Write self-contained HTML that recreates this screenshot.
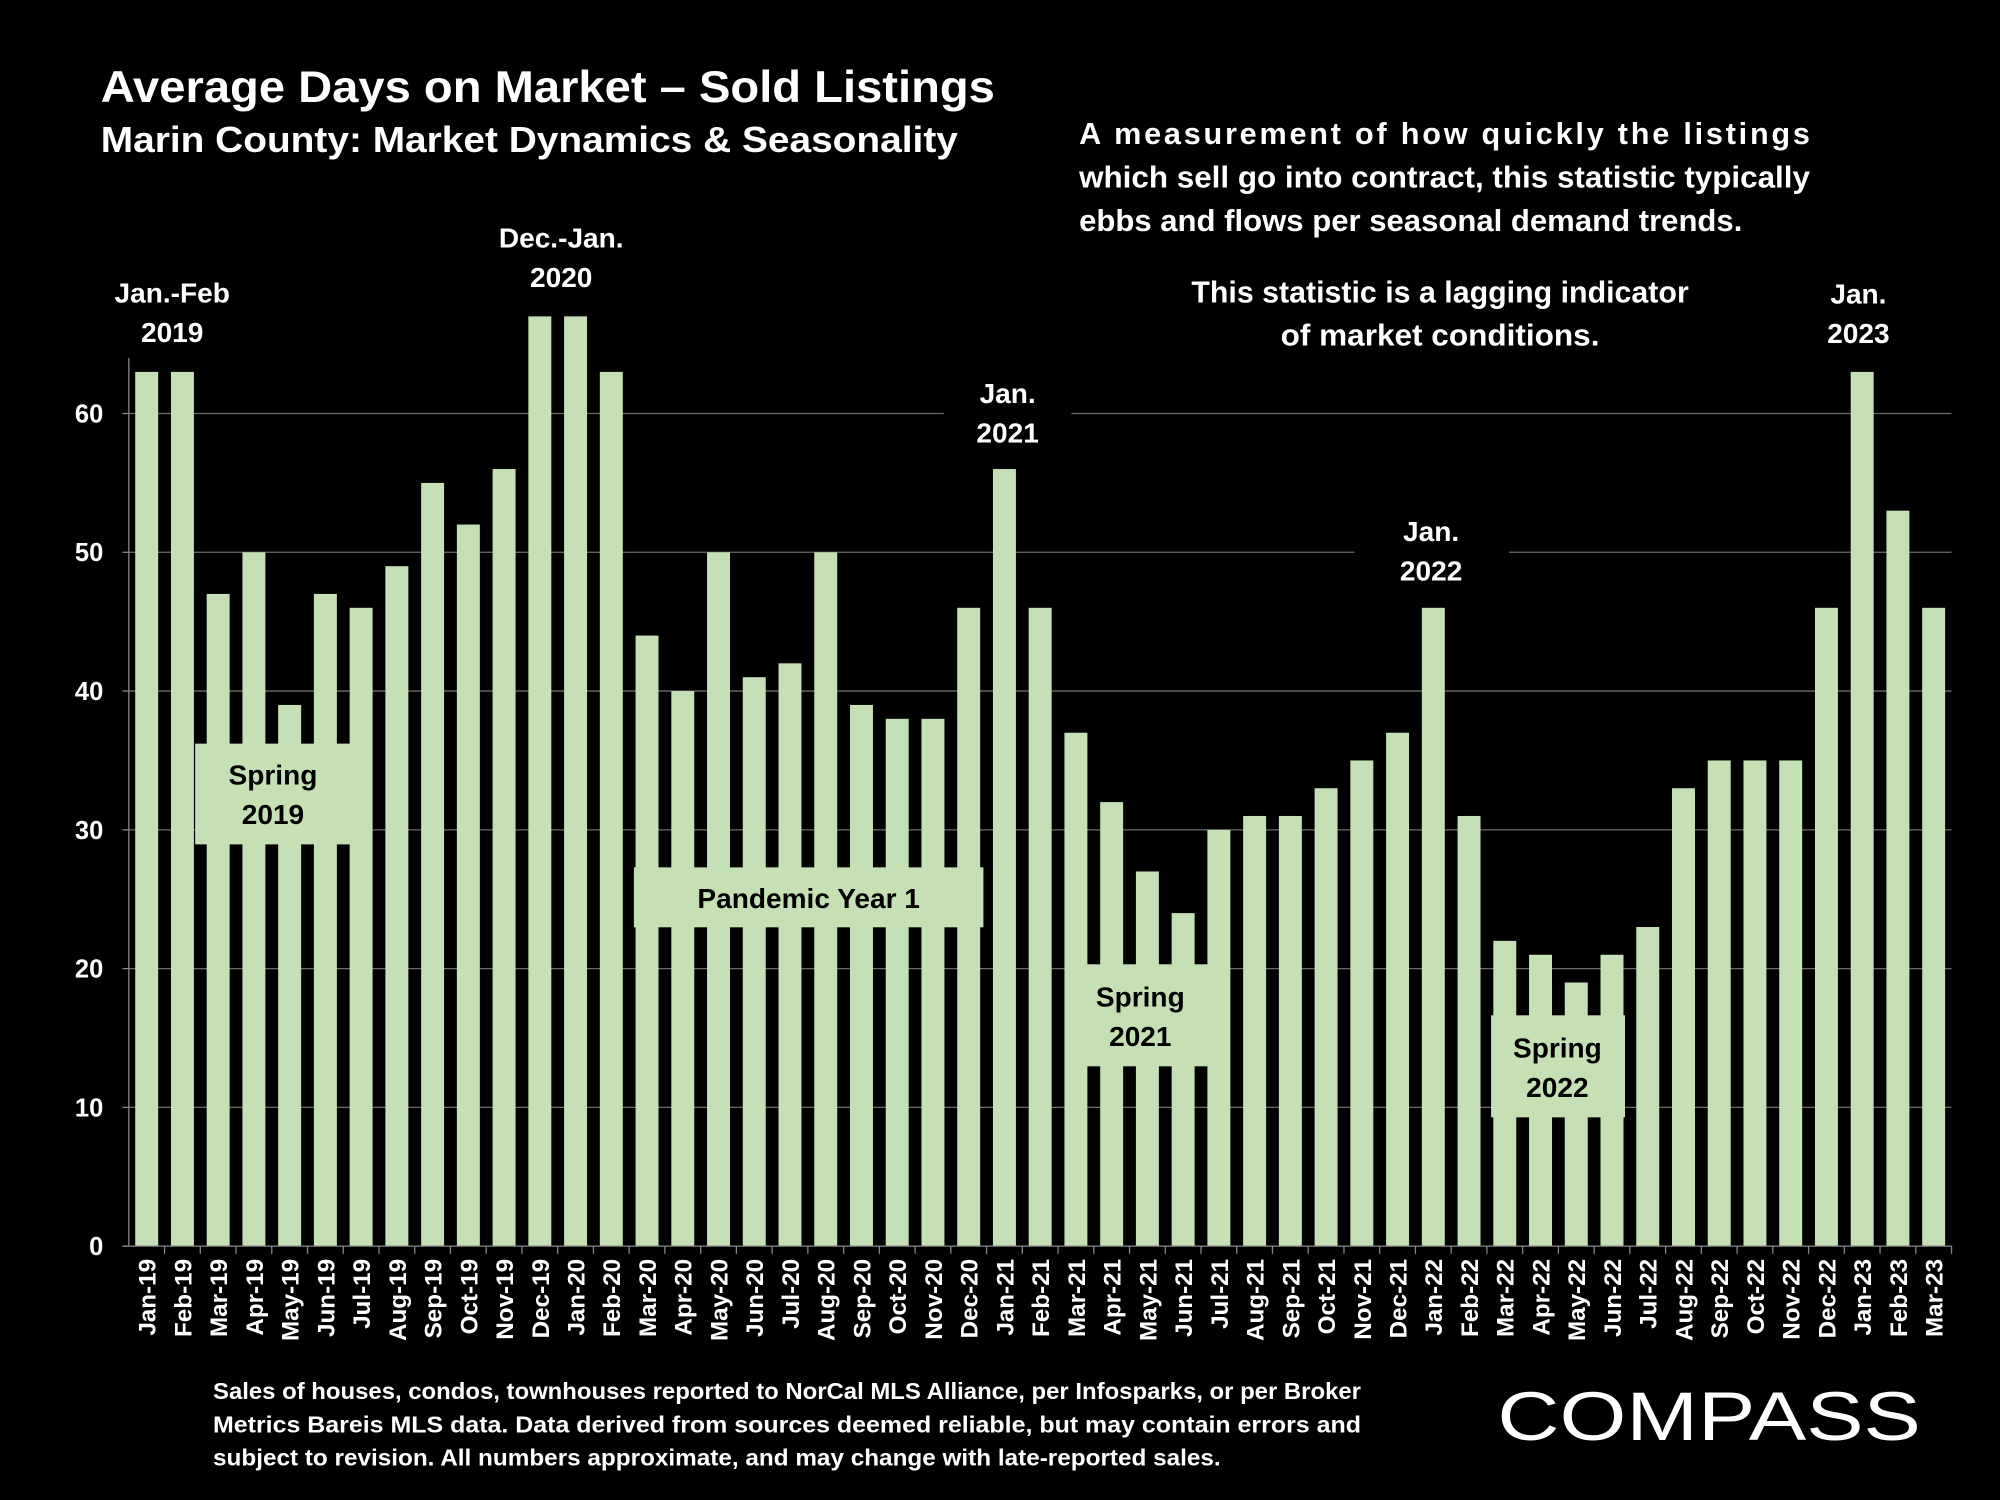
<!DOCTYPE html>
<html><head><meta charset="utf-8"><style>
html,body{margin:0;padding:0;background:#000;}
svg{display:block;font-family:"Liberation Sans",sans-serif;font-weight:bold;}
</style></head><body>
<svg id="chart" width="2000" height="1500" viewBox="0 0 1568 1176" preserveAspectRatio="none" xmlns="http://www.w3.org/2000/svg">
<rect width="1568" height="1176" fill="#000"/>
<text x="79" y="80" font-size="35" fill="#fff" textLength="701" lengthAdjust="spacingAndGlyphs">Average Days on Market – Sold Listings</text>
<text x="79" y="119" font-size="28" fill="#fff" textLength="672" lengthAdjust="spacingAndGlyphs">Marin County: Market Dynamics &amp; Seasonality</text>
<g fill="#fff" font-size="24">
<text x="846" y="113" textLength="573" lengthAdjust="spacing">A measurement of how quickly the listings</text>
<text x="846" y="147" textLength="573" lengthAdjust="spacingAndGlyphs">which sell go into contract, this statistic typically</text>
<text x="846" y="181" textLength="520" lengthAdjust="spacingAndGlyphs">ebbs and flows per seasonal demand trends.</text>
<text x="1129" y="237" text-anchor="middle" textLength="390" lengthAdjust="spacingAndGlyphs">This statistic is a lagging indicator</text>
<text x="1129" y="271" text-anchor="middle" textLength="250" lengthAdjust="spacingAndGlyphs">of market conditions.</text>
</g>
<g id="grid"></g>
<g id="bars"></g>
<g id="axes"></g>
<g id="annots"></g>
<g fill="#fff" font-size="18">
<text x="167" y="1097" textLength="900" lengthAdjust="spacingAndGlyphs">Sales of houses, condos, townhouses reported to NorCal MLS Alliance, per Infosparks, or per Broker</text>
<text x="167" y="1123" textLength="900" lengthAdjust="spacingAndGlyphs">Metrics Bareis MLS data. Data derived from sources deemed reliable, but may contain errors and</text>
<text x="167" y="1149" textLength="790" lengthAdjust="spacingAndGlyphs">subject to revision. All numbers approximate, and may change with late-reported sales.</text>
</g>
<text x="1174" y="1129" font-size="54" font-weight="normal" fill="#fff" textLength="332" lengthAdjust="spacingAndGlyphs">COMPASS</text>
<script>
const categories=["Jan-19","Feb-19","Mar-19","Apr-19","May-19","Jun-19","Jul-19","Aug-19","Sep-19","Oct-19","Nov-19","Dec-19","Jan-20","Feb-20","Mar-20","Apr-20","May-20","Jun-20","Jul-20","Aug-20","Sep-20","Oct-20","Nov-20","Dec-20","Jan-21","Feb-21","Mar-21","Apr-21","May-21","Jun-21","Jul-21","Aug-21","Sep-21","Oct-21","Nov-21","Dec-21","Jan-22","Feb-22","Mar-22","Apr-22","May-22","Jun-22","Jul-22","Aug-22","Sep-22","Oct-22","Nov-22","Dec-22","Jan-23","Feb-23","Mar-23"];
const values=[63,63,47,50,39,47,46,49,55,52,56,67,67,63,44,40,50,41,42,50,39,38,38,46,56,46,37,32,27,24,30,31,31,33,35,37,46,31,22,21,19,21,23,33,35,35,35,46,63,53,46];
const yTicks=[0,10,20,30,40,50,60];
const NS="http://www.w3.org/2000/svg";
const left=101,right=1530,y0=977,yPer=10.88;
const step=(right-left)/categories.length,bw=18;
const xc=i=>left+step*(i+0.5);
const ys=v=>y0-v*yPer;
function mk(t,a,p){const e=document.createElementNS(NS,t);for(const k in a)e.setAttribute(k,a[k]);p.appendChild(e);return e;}
const grid=document.getElementById('grid'),bars=document.getElementById('bars'),axes=document.getElementById('axes');
yTicks.forEach(v=>{
  if(v>0){const l=mk('line',{x1:left,x2:right,y1:ys(v),y2:ys(v),stroke:'#6b6b6b','stroke-width':1},grid);
  
  }
  const t=mk('text',{x:left-20,y:ys(v)+7,'text-anchor':'end','font-size':20,fill:'#fff'},axes);t.textContent=v;
  
  
  mk('line',{x1:left-5,x2:left,y1:ys(v),y2:ys(v),stroke:'#888'},axes);
});
mk('line',{x1:left,x2:left,y1:ys(64),y2:y0,stroke:'#888'},axes);
mk('line',{x1:left-5,x2:right,y1:y0,y2:y0,stroke:'#888'},axes);
values.forEach((v,i)=>{
  const r=mk('rect',{x:xc(i)-bw/2,y:ys(v),width:bw,height:v*yPer,fill:'#c5e0b4'},bars);
  
  
  mk('line',{x1:left+step*(i+1),x2:left+step*(i+1),y1:y0,y2:y0+6,stroke:'#888'},axes);
  const t=mk('text',{x:0,y:0,transform:`translate(${xc(i)+7},${y0+10}) rotate(-90)`,'text-anchor':'end','font-size':19,fill:'#fff'},axes);
  t.textContent=categories[i];
  
  
});
const an=document.getElementById('annots');
function label(lines,cx,cy,name,bg){
  const g=mk('g',{},an);
  
  
  if(bg) mk('rect',bg,g);
  lines.forEach((s,k)=>{const t=mk('text',{x:cx,y:cy+k*31+8,'text-anchor':'middle','font-size':22,fill:bg&&bg.fill!=='#000'?'#000':'#fff'},g);t.textContent=s;});
}
label(["Jan.-Feb","2019"],135,229,'label-jan-feb-2019');
label(["Dec.-Jan.","2020"],440,186,'label-dec-jan-2020');
label(["Jan.","2021"],790,308,'label-jan-2021',{x:740,y:290,width:100,height:64,fill:'#000'});
label(["Jan.","2022"],1122,416,'label-jan-2022',{x:1062,y:398,width:121,height:64,fill:'#000'});
label(["Jan.","2023"],1457,230,'label-jan-2023');
label(["Spring","2019"],214,607,'box-spring-2019',{x:153,y:583,width:124,height:79,fill:'#c5e0b4'});
label(["Pandemic Year 1"],634,704,'box-pandemic-year-1',{x:497,y:680,width:274,height:47,fill:'#c5e0b4'});
label(["Spring","2021"],894,781,'box-spring-2021',{x:852,y:756,width:96,height:80,fill:'#c5e0b4'});
label(["Spring","2022"],1221,821,'box-spring-2022',{x:1169,y:796,width:105,height:80,fill:'#c5e0b4'});
</script>
</svg>
</body></html>
